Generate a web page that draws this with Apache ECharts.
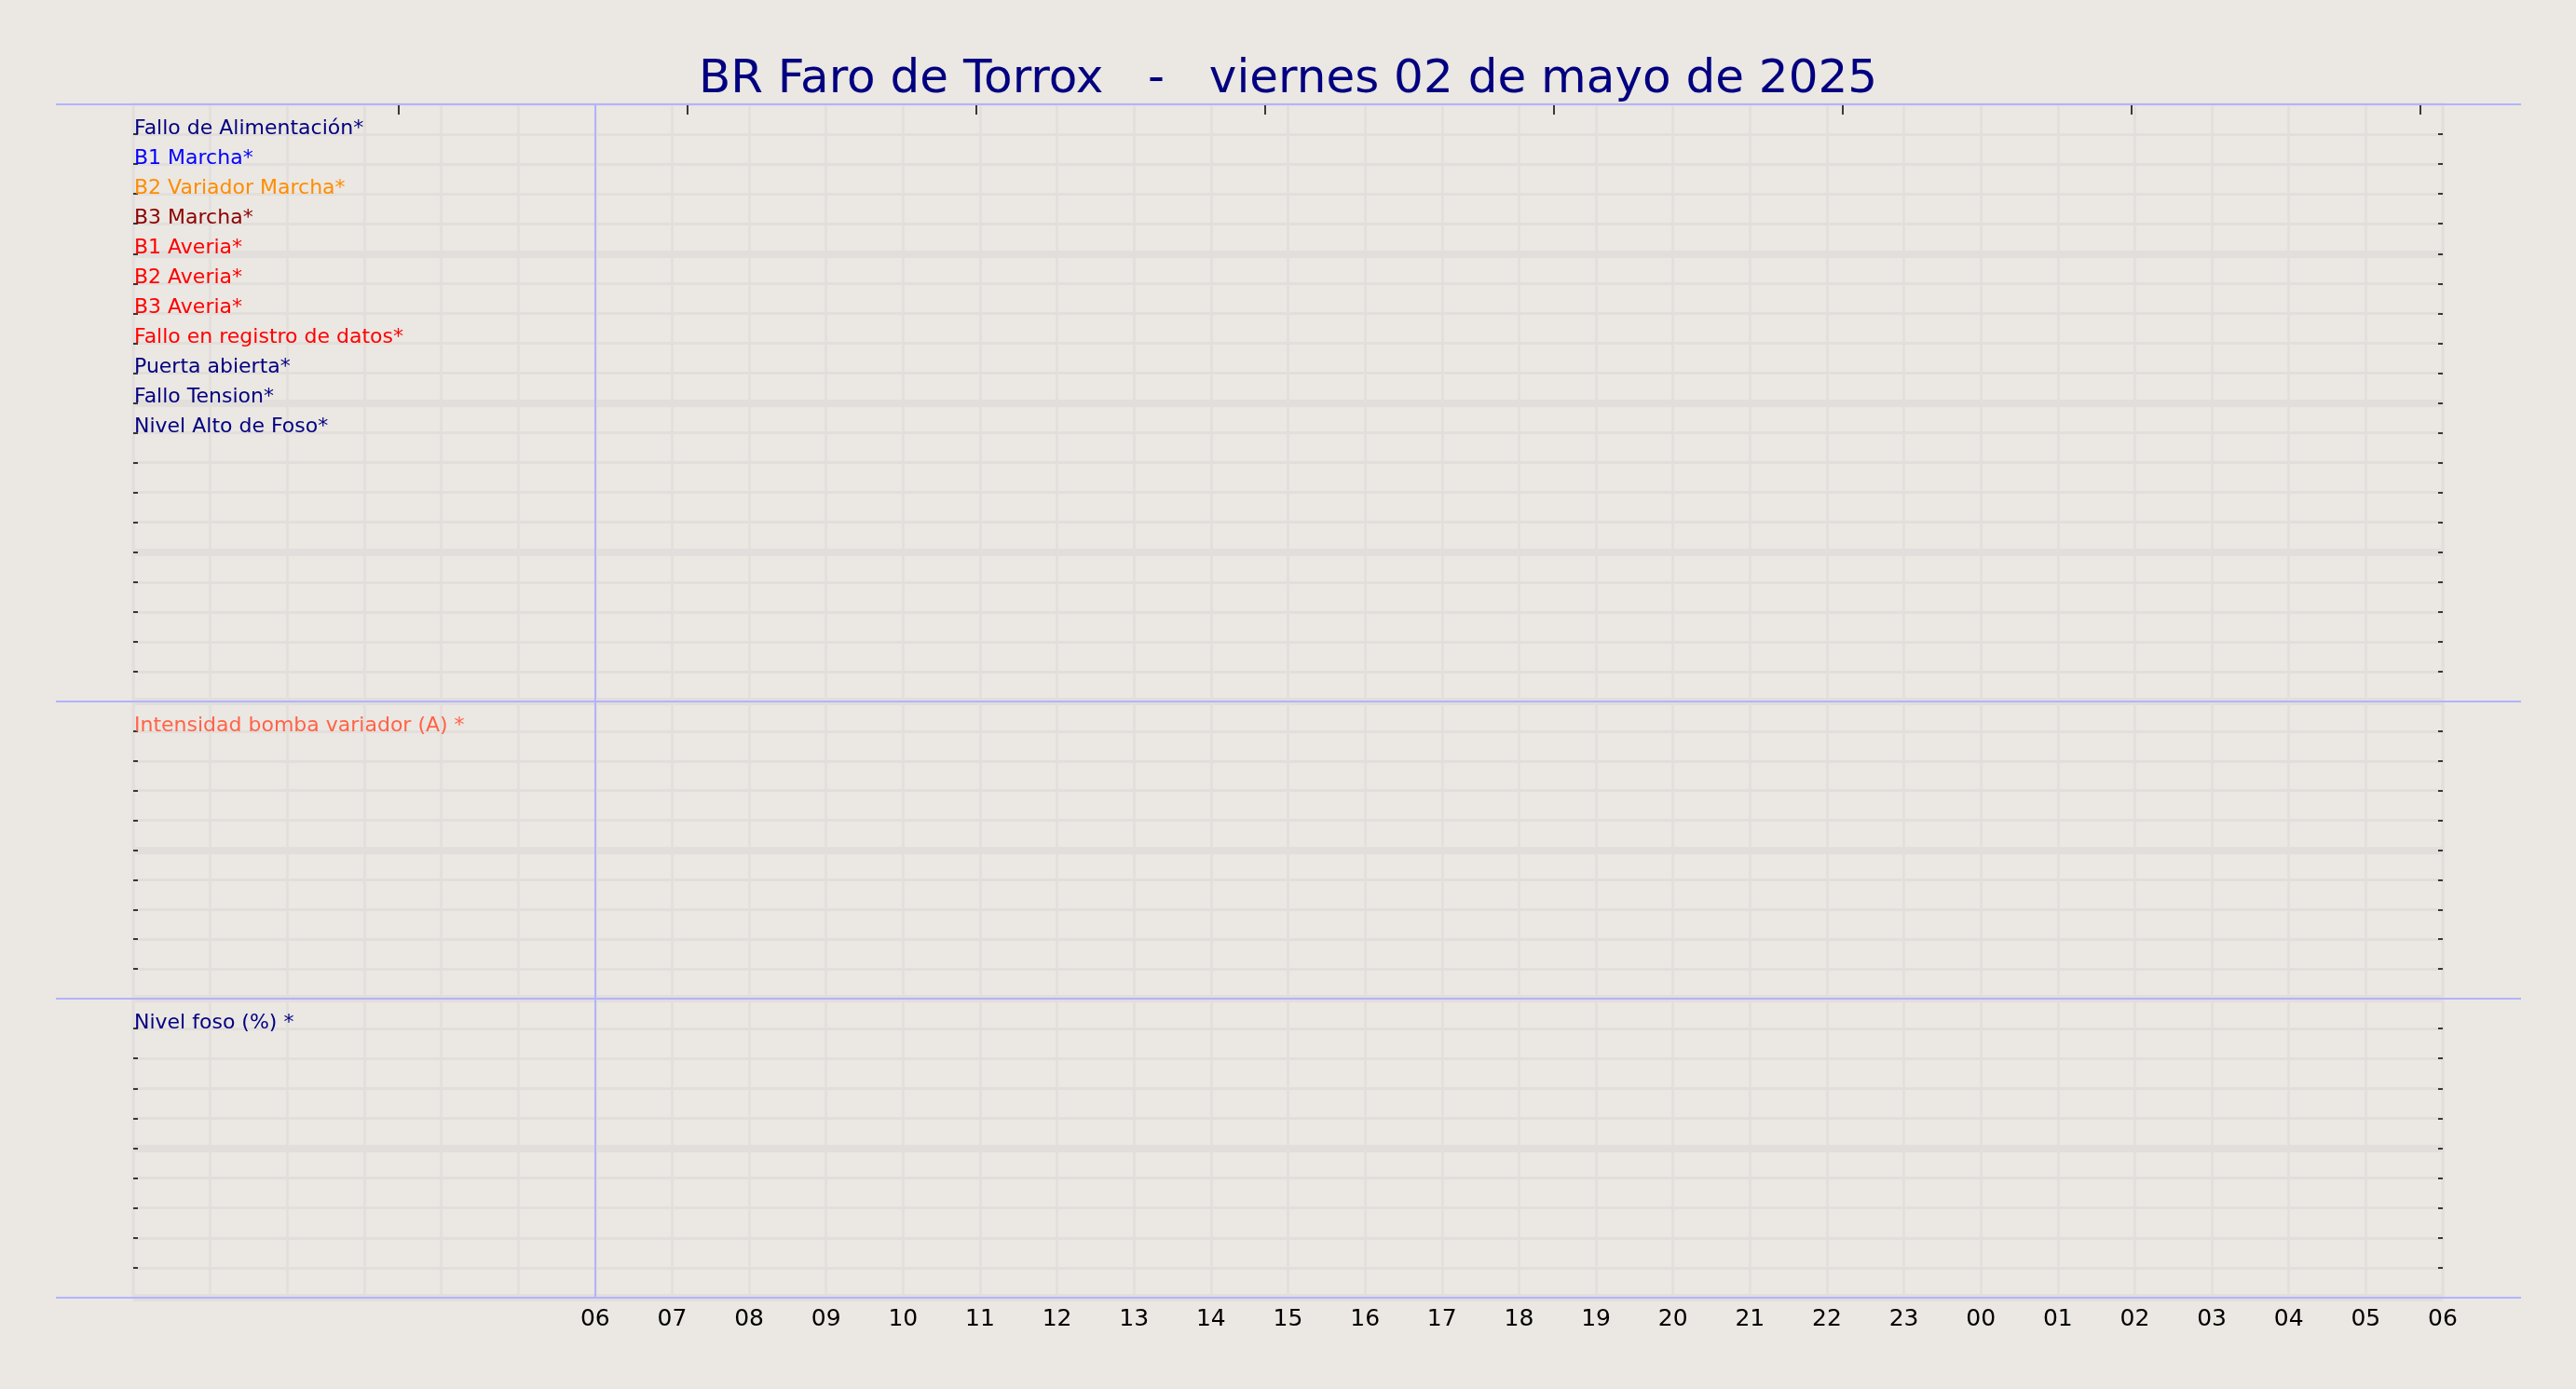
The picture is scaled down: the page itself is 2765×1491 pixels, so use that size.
<!DOCTYPE html>
<html>
<head>
<meta charset="utf-8">
<title>BR Faro de Torrox</title>
<script src="https://cdn.jsdelivr.net/npm/echarts@6/dist/echarts.min.js"></script>
<style>
  html, body { margin: 0; padding: 0; background: #ebe7e2; }
  #chart { width: 2765px; height: 1491px; }
</style>
</head>
<body>
<div id="chart"></div>
<script>
// Title
const chartTitle = "BR Faro de Torrox   -   viernes 02 de mayo de 2025";

// X axis: hours from 00:00 of the day until 06:00 of the next day
const hourMin = 0;
const hourMax = 30;
const firstLabeledHour = 6;
const hourLabels = ["06", "07", "08", "09", "10", "11", "12", "13", "14", "15", "16", "17",
  "18", "19", "20", "21", "22", "23", "00", "01", "02", "03", "04", "05", "06"];
const topTickHours = [3.446, 7.197, 10.949, 14.7, 18.452, 22.203, 25.955, 29.706];
const markHour = 6;

// Digital signals (top panel), one row each from the top
const signalNames = ["Fallo de Alimentación*", "B1 Marcha*", "B2 Variador Marcha*", "B3 Marcha*",
  "B1 Averia*", "B2 Averia*", "B3 Averia*", "Fallo en registro de datos*",
  "Puerta abierta*", "Fallo Tension*", "Nivel Alto de Foso*"];
const signalColors = ["#000080", "#0000ff", "#ff8c00", "#8b0000", "#ff0000", "#ff0000",
  "#ff0000", "#ff0000", "#000080", "#000080", "#000080"];
const signalRowMax = 20;

// Analog panels
const currentNames = ["Intensidad bomba variador (A) *"];
const currentColors = ["#ff6347"];
const levelNames = ["Nivel foso (%) *"];
const levelColors = ["#000080"];
const analogRowMax = 10;

// Layout
const bgColor = "#ebe7e2";
const gridColor = "#e2dedb";
const blueLine = "#b3b3ff";
const plotSide = 143;
const panels = [
  { top: 112, bottom: 753, rowMax: signalRowMax, names: signalNames, colors: signalColors },
  { top: 753, bottom: 1072, rowMax: analogRowMax, names: currentNames, colors: currentColors },
  { top: 1072, bottom: 1393, rowMax: analogRowMax, names: levelNames, colors: levelColors },
];
const fontFamily = "DejaVu Sans";

let chartDom = document.getElementById("chart");
let myChart = echarts.init(chartDom, null, { renderer: "canvas" });

let grids = panels.map(function (p) {
  return {
    left: plotSide,
    right: plotSide,
    top: p.top,
    height: p.bottom - p.top,
    show: true,
    borderWidth: 3,
    borderColor: gridColor,
    backgroundColor: "transparent",
  };
});

let xAxes = panels.map(function (p, i) {
  let last = i === panels.length - 1;
  return {
    gridIndex: i,
    type: "value",
    position: "bottom",
    min: hourMin,
    max: hourMax,
    interval: 1,
    axisLine: { show: false, onZero: false },
    axisTick: { show: false },
    axisLabel: {
      show: last,
      margin: 11,
      color: "#000",
      fontSize: 25,
      fontFamily: fontFamily,
      formatter: function (v) {
        return v >= firstLabeledHour ? hourLabels[v - firstLabeledHour] : "";
      },
    },
    splitLine: { show: true, lineStyle: { color: gridColor, width: 2.5 } },
  };
});

// Small ticks along the top edge
xAxes.push({
  gridIndex: 0,
  type: "value",
  position: "top",
  min: hourMin,
  max: hourMax,
  axisLine: { show: false, onZero: false },
  axisLabel: { show: false },
  splitLine: { show: false },
  axisTick: {
    show: true,
    inside: true,
    length: 11,
    customValues: topTickHours,
    lineStyle: { color: "#000", width: 1.5 },
  },
});

function makeYAxis(i, position) {
  let left = position === "left";
  return {
    gridIndex: i,
    type: "value",
    position: position,
    min: 0,
    max: panels[i].rowMax,
    interval: 5,
    axisLine: { show: false, onZero: false },
    axisLabel: { show: false },
    axisTick: { show: true, inside: true, length: 5, lineStyle: { color: "#000", width: 1.5 } },
    minorTick: { show: true, splitNumber: 5, length: 5, lineStyle: { color: "#000", width: 1.5 } },
    splitLine: {
      show: left,
      showMaxLine: false,
      lineStyle: { color: gridColor, width: 8 },
    },
    minorSplitLine: { show: left, lineStyle: { color: gridColor, width: 3 } },
  };
}

let yAxes = panels.map(function (p, i) { return makeYAxis(i, "left"); })
  .concat(panels.map(function (p, i) { return makeYAxis(i, "right"); }));

// One label series per panel; the rows have no data for this day
let series = panels.map(function (p, i) {
  return {
    type: "scatter",
    xAxisIndex: i,
    yAxisIndex: i,
    symbolSize: 0,
    silent: true,
    data: p.names.map(function (name, k) {
      return {
        name: name,
        value: [hourMin, p.rowMax - 1 - k],
        label: { color: p.colors[k] },
      };
    }),
    label: {
      show: true,
      formatter: "{b}",
      position: [1, 5],
      align: "left",
      verticalAlign: "bottom",
      fontSize: 22,
      fontFamily: fontFamily,
      opacity: 1,
      textBorderWidth: 0,
    },
    markLine: {
      silent: true,
      symbol: ["none", "none"],
      label: { show: false },
      lineStyle: { color: blueLine, width: 2, type: "solid" },
      data: [{ xAxis: markHour }],
    },
  };
});

// Blue separators between the panels, a bit wider than the plots
let separators = [panels[0].top].concat(panels.map(function (p) { return p.bottom; }));
let graphics = separators.map(function (y) {
  return {
    type: "line",
    z: 100,
    silent: true,
    shape: { x1: 60, y1: y, x2: 2706, y2: y },
    style: { stroke: blueLine, lineWidth: 2 },
  };
});

let option = {
  backgroundColor: bgColor,
  animation: false,
  title: {
    text: chartTitle,
    left: "center",
    top: 56,
    textStyle: { color: "#000080", fontSize: 50, fontWeight: "normal", fontFamily: fontFamily },
  },
  grid: grids,
  xAxis: xAxes,
  yAxis: yAxes,
  series: series,
  graphic: graphics,
};

myChart.setOption(option);

window.addEventListener("resize", function () {
  myChart.resize();
});
</script>
</body>
</html>
